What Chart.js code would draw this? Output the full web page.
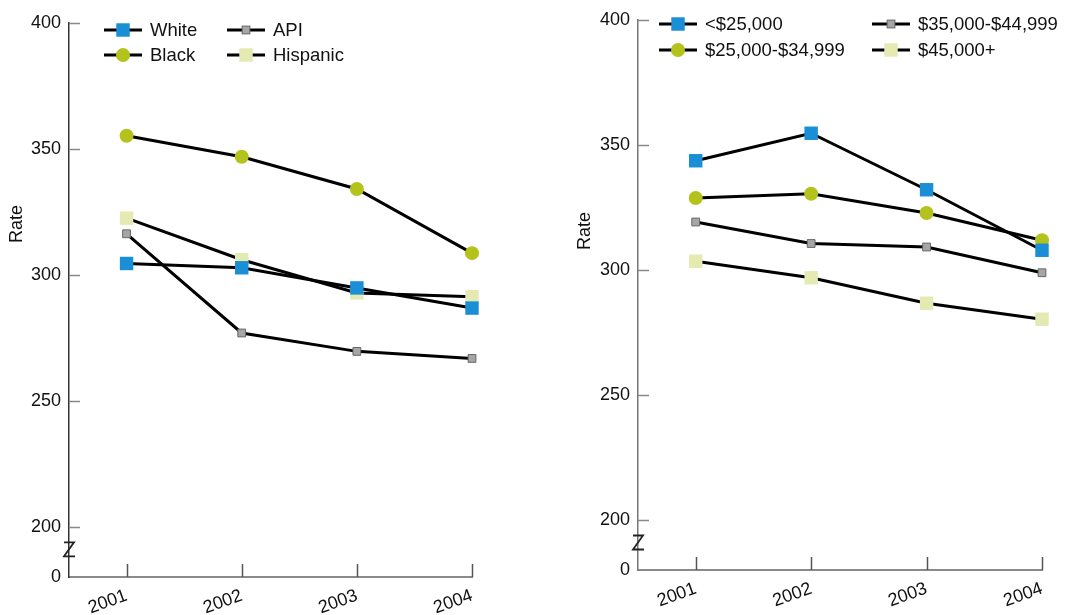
<!DOCTYPE html>
<html>
<head>
<meta charset="utf-8">
<script src="https://cdn.jsdelivr.net/npm/chart.js@4.4.1/dist/chart.umd.min.js"></script>
<style>
  html, body { margin: 0; padding: 0; background: #fff; }
  #wrap { position: relative; width: 1067px; height: 615px; }
  #left { position: absolute; left: 0; top: 0; }
  #right { position: absolute; left: 540px; top: 0; }
</style>
</head>
<body>
<div id="wrap">
  <canvas id="left" width="540" height="615"></canvas>
  <canvas id="right" width="527" height="615"></canvas>
</div>
<script>
var years = [2001, 2002, 2003, 2004];
var yTicks = [180, 200, 250, 300, 350, 400];

// race / ethnicity
var raceNames = ["White", "Black", "API", "Hispanic"];
var white = [304.5, 302.8, 294.8, 286.8];
var black = [355.2, 346.9, 334.1, 308.6];
var api = [316.3, 276.9, 269.6, 266.8];
var hispanic = [322.5, 306.0, 292.8, 291.3];

// income
var incomeNames = ["<$25,000", "$25,000-$34,999", "$35,000-$44,999", "$45,000+"];
var under25 = [343.7, 354.7, 332.1, 307.9];
var from25 = [328.8, 330.5, 322.8, 311.9];
var from35 = [319.2, 310.6, 309.2, 298.9];
var over45 = [303.5, 296.9, 286.7, 280.3];

var FONT = "'Liberation Sans', Arial, sans-serif";
var BLUE = "#1a8fd6", GREEN = "#b4c21c", GRAY = "#a4a6a8", PALE = "#e4eab2";

var styles = [
  { pointStyle: 'rect', pointRadius: 9.5, color: BLUE, border: BLUE, bw: 0 },
  { pointStyle: 'circle', pointRadius: 7, color: GREEN, border: GREEN, bw: 0 },
  { pointStyle: 'rect', pointRadius: 5.5, color: GRAY, border: "#666", bw: 1 },
  { pointStyle: 'rect', pointRadius: 9.5, color: PALE, border: PALE, bw: 0 }
];

function makeSet(name, values, s, order) {
  return {
    label: name,
    data: values,
    borderColor: "#000",
    borderWidth: 3,
    pointStyle: s.pointStyle,
    pointRadius: s.pointRadius,
    pointHoverRadius: s.pointRadius,
    pointBackgroundColor: s.color,
    pointBorderColor: s.border,
    pointBorderWidth: s.bw,
    tension: 0,
    clip: false,
    order: order
  };
}

// draws axis ticks, the axis break, the "Rate" title and the legend
var decor = {
  id: 'decor',
  afterDraw: function(chart, args, opts) {
    var ctx = chart.ctx;
    var xs = chart.scales.x, ys = chart.scales.y;
    var left = chart.chartArea.left, bottom = chart.chartArea.bottom;
    ctx.save();
    // y ticks, pointing into the plot
    ctx.strokeStyle = "#888";
    ctx.lineWidth = 1.5;
    yTicks.forEach(function(v) {
      if (v < 200) return;
      var y = Math.round(ys.getPixelForValue(v)) + 0.5;
      ctx.beginPath(); ctx.moveTo(left, y); ctx.lineTo(left + 11, y); ctx.stroke();
    });
    // x ticks, pointing up
    ctx.strokeStyle = "#555";
    years.forEach(function(v) {
      var x = Math.round(xs.getPixelForValue(v)) + 0.5;
      ctx.beginPath(); ctx.moveTo(x, bottom); ctx.lineTo(x, bottom - 13); ctx.stroke();
    });
    // axis break
    var by = ys.getPixelForValue(opts.breakAt);
    ctx.strokeStyle = "#222";
    ctx.lineWidth = 1.8;
    ctx.beginPath();
    ctx.moveTo(left - 5, by - 7);
    ctx.lineTo(left + 5, by - 7);
    ctx.lineTo(left - 5, by + 7);
    ctx.lineTo(left + 6, by + 7);
    ctx.stroke();
    // axis title
    ctx.fillStyle = "#111";
    ctx.font = "18px " + FONT;
    ctx.textAlign = "center";
    ctx.textBaseline = "middle";
    ctx.translate(opts.titleX, opts.titleY);
    ctx.rotate(-Math.PI / 2);
    ctx.fillText("Rate", 0, 0);
    ctx.restore();

    // legend
    ctx.save();
    ctx.font = "18.5px " + FONT;
    ctx.textAlign = "left";
    ctx.textBaseline = "middle";
    chart.data.datasets.forEach(function(ds, i) {
      var col = opts.legendOrder[i][0], row = opts.legendOrder[i][1];
      var x0 = opts.colX[col], y0 = opts.rowY[row];
      ctx.strokeStyle = "#000";
      ctx.lineWidth = 3;
      ctx.beginPath(); ctx.moveTo(x0, y0); ctx.lineTo(x0 + 38, y0); ctx.stroke();
      var s = styles[i];
      var cx = x0 + 19;
      ctx.fillStyle = s.color;
      if (s.pointStyle === 'circle') {
        ctx.beginPath(); ctx.arc(cx, y0, s.pointRadius, 0, Math.PI * 2); ctx.fill();
      } else {
        var h = s.pointRadius * Math.SQRT1_2;
        ctx.fillRect(cx - h, y0 - h, 2 * h, 2 * h);
        if (s.bw) { ctx.strokeStyle = s.border; ctx.lineWidth = s.bw; ctx.strokeRect(cx - h, y0 - h, 2 * h, 2 * h); }
      }
      ctx.fillStyle = "#111";
      ctx.fillText(ds.label, x0 + 46, y0 + 1);
    });
    ctx.restore();
  }
};

function buildChart(id, names, series, cfg) {
  var sets = series.map(function(vals, i) { return makeSet(names[i], vals, styles[i], i); });
  return new Chart(document.getElementById(id), {
    type: 'line',
    data: { labels: years, datasets: sets },
    plugins: [decor],
    options: {
      responsive: false,
      animation: false,
      layout: { padding: { top: cfg.top, right: cfg.right, bottom: 0, left: 0 } },
      plugins: {
        legend: { display: false },
        tooltip: { enabled: false },
        decor: cfg.decor
      },
      scales: {
        x: {
          type: 'linear',
          min: 2000.5,
          max: 2004,
          afterBuildTicks: function(scale) { scale.ticks = years.map(function(v) { return { value: v }; }); },
          afterFit: function(scale) { scale.height = cfg.xHeight; },
          grid: { display: false },
          border: { display: true, color: "#8a8a8a", width: 2 },
          ticks: {
            autoSkip: false,
            minRotation: 20,
            maxRotation: 20,
            padding: 0,
            color: "#111",
            font: { family: FONT, size: 18 },
            callback: function(v) { return String(v); }
          }
        },
        y: {
          min: 180,
          max: 400,
          afterBuildTicks: function(scale) { scale.ticks = yTicks.map(function(v) { return { value: v }; }); },
          afterFit: function(scale) { scale.width = cfg.yWidth; },
          grid: { display: false, tickLength: 0 },
          border: { display: true, color: cfg.yAxisColor, width: 1.5 },
          ticks: {
            padding: 8,
            color: "#111",
            font: { family: FONT, size: 18 },
            callback: function(v) { return v === 180 ? "0" : String(v); }
          }
        }
      }
    }
  });
}

buildChart('left', raceNames, [white, black, api, hispanic], {
  top: 23, right: 68, xHeight: 38, yWidth: 69, yAxisColor: "#333",
  decor: {
    breakAt: 191, titleX: 17, titleY: 224,
    colX: [104, 227], rowY: [30, 55],
    legendOrder: [[0, 0], [0, 1], [1, 0], [1, 1]]
  }
});

buildChart('right', incomeNames, [under25, from25, from35, over45], {
  top: 20, right: 25, xHeight: 45, yWidth: 98, yAxisColor: "#777",
  decor: {
    breakAt: 191, titleX: 45, titleY: 231,
    colX: [119, 332], rowY: [24, 50],
    legendOrder: [[0, 0], [0, 1], [1, 0], [1, 1]]
  }
});
</script>
</body>
</html>
